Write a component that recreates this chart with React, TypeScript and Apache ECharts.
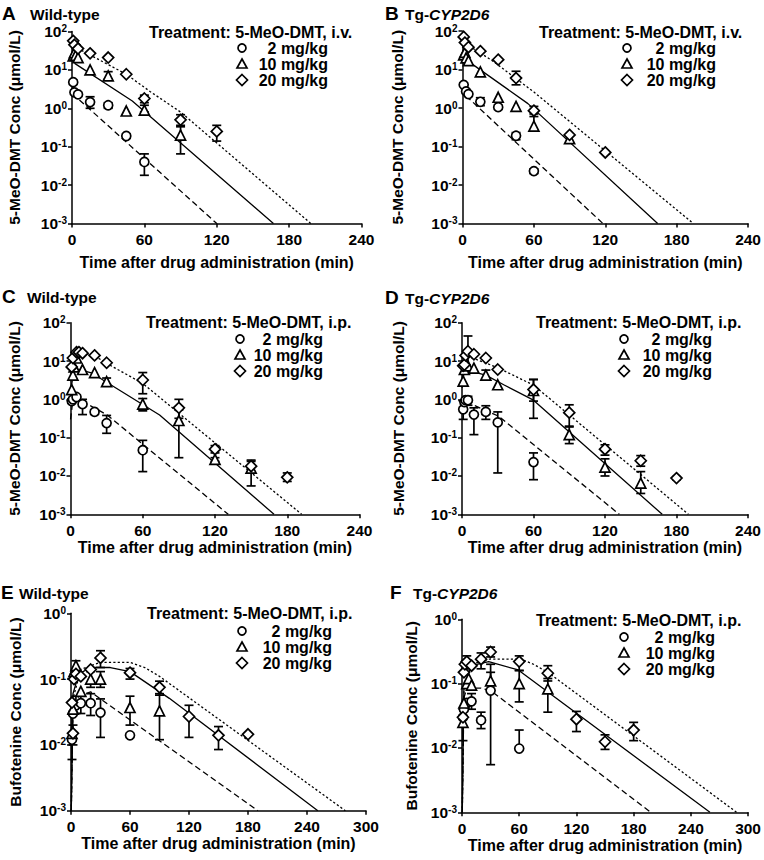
import React, { useEffect, useRef } from "react";
import * as echarts from "echarts";

// ---------- DATA ----------
// Each observation: [time (min), mean, lower error, upper error]
// Panel A: Wild-type, 5-MeO-DMT i.v.
const A_2 = [[1, 4.8], [2, 2.6], [5, 2.3], [15, 1.45, 1.0, 2.0], [30, 1.2, 1.0, 1.4], [45, 0.19], [60, 0.04, 0.018, 0.065]];
const A_10 = [[1, 23], [2, 28], [3, 24], [5, 21], [15, 10], [30, 7, 5.8, 9], [45, 0.85], [60, 0.9, 0.8, 1.2], [90, 0.2, 0.065, 0.33]];
const A_20 = [[1, 57], [2, 45], [5, 36], [15, 27], [30, 21], [45, 7.7], [60, 1.8, 1.4, 2.2], [90, 0.5, 0.36, 0.68], [120, 0.25, 0.14, 0.36]];
const A_fit2 = [[0, 4.5], [2.5, 2.1], [120, 0.001]];
const A_fit10 = [[0, 28], [2.5, 14.6], [50, 1.55], [167, 0.001]];
const A_fit20 = [[0, 55], [5, 36], [45, 7.7], [65, 2.7], [90, 0.8], [198, 0.001]];

// Panel B: Tg-CYP2D6, 5-MeO-DMT i.v.
const B_2 = [[1, 4.0], [3, 2.7], [5, 2.3], [15, 1.45, 1.15, 1.85], [30, 1.05], [45, 0.19, 0.15, 0.23], [60, 0.023, 0.02, 0.026]];
const B_10 = [[1, 24], [2, 28], [3, 20], [5, 17], [15, 8.7], [30, 1.9], [45, 1.1], [60, 0.34, 0.25, 0.6], [90, 0.16]];
const B_20 = [[1, 70], [2, 50], [5, 38], [15, 30], [30, 18], [45, 6, 4, 9], [60, 0.85, 0.7, 1.1], [90, 0.2], [120, 0.07]];
const B_fit2 = [[0, 3.5], [3.5, 2.0], [118, 0.001]];
const B_fit10 = [[0, 30], [4, 17], [55, 1.3], [164, 0.001]];
const B_fit20 = [[0, 80], [5, 42], [25, 17], [60, 2.6], [194, 0.001]];

// Panel C: Wild-type, 5-MeO-DMT i.p.
const C_2 = [[1, 0.9], [2, 1.0], [5, 1.15, 0.9, 1.3], [10, 0.75, 0.4, 1.0], [20, 0.47], [30, 0.24, 0.13, 0.38], [60, 0.047, 0.013, 0.085]];
const C_10 = [[1, 1.8], [2, 4.3], [3, 7], [5, 12], [10, 6], [20, 5], [30, 2.9, 2.5, 3.6], [60, 0.75, 0.5, 1.05], [90, 0.28, 0.03, 0.53], [120, 0.027, 0.024, 0.03], [150, 0.016, 0.0055, 0.026]];
const C_20 = [[1, 7], [2, 12], [5, 17], [7, 17], [10, 16], [20, 14], [30, 9], [60, 3.2, 1.4, 5], [90, 0.6, 0.32, 1.0], [120, 0.05, 0.04, 0.062], [150, 0.018, 0.013, 0.024], [180, 0.0092, 0.0072, 0.012]];
const C_fit2 = [[0, 0.3], [2, 0.95], [8, 0.95], [30, 0.4], [131, 0.001]];
const C_fit10 = [[0, 1.5], [3, 6.5], [18, 4.8], [30, 2.8], [74, 0.39], [169, 0.001]];
const C_fit20 = [[0, 3], [4, 16], [18, 15], [30, 8.7], [60, 2.6], [192, 0.001]];

// Panel D: Tg-CYP2D6, 5-MeO-DMT i.p.
const D_2 = [[1, 0.55, 0.3, 0.9], [2, 0.85], [3, 0.95], [5, 0.95, 0.7, 1.2], [10, 0.4, 0.12, 0.6], [20, 0.47, 0.3, 0.68], [30, 0.25, 0.012, 0.47], [60, 0.023, 0.008, 0.04]];
const D_10 = [[1, 3], [2, 6], [5, 7.5], [10, 6.5], [20, 4.3, 3.4, 5.8], [30, 2.4], [60, 1.7, 0.32, 3.3], [90, 0.12, 0.07, 0.19], [120, 0.017, 0.01, 0.028], [150, 0.0065, 0.0035, 0.013]];
const D_20 = [[1, 7.5], [2, 8], [3, 14], [5, 18, 5, 45], [10, 15], [20, 12], [30, 6], [60, 1.8, 0.9, 3.3], [90, 0.45, 0.2, 0.72], [120, 0.05, 0.035, 0.065], [150, 0.025, 0.018, 0.034], [180, 0.0088, 0.008, 0.0096]];
const D_fit2 = [[0, 0.5], [2, 0.8], [8, 0.75], [31, 0.36], [132, 0.001]];
const D_fit10 = [[0, 2], [2, 6], [20, 4.3], [35, 2.4], [60, 0.95], [168, 0.001]];
const D_fit20 = [[0, 3], [3, 13], [12, 11], [30, 6.7], [60, 2.35], [190, 0.001]];

// Panel E: Wild-type, bufotenine after 5-MeO-DMT i.p.
const E_2 = [[1, 0.012], [2, 0.03], [5, 0.04, 0.03, 0.055], [10, 0.043, 0.03, 0.055], [20, 0.043, 0.028, 0.06], [30, 0.031, 0.013, 0.05], [60, 0.014]];
const E_10 = [[1, 0.015, 0.006, 0.03], [2, 0.035], [3, 0.13], [5, 0.16, 0.13, 0.19], [10, 0.065], [20, 0.1, 0.075, 0.13], [30, 0.1, 0.075, 0.13], [60, 0.037, 0.02, 0.055], [90, 0.033, 0.012, 0.06]];
const E_20 = [[1, 0.044], [2, 0.015, 0.01, 0.02], [3, 0.1], [5, 0.12], [10, 0.11], [20, 0.14], [30, 0.21, 0.15, 0.27], [60, 0.125, 0.1, 0.145], [90, 0.075, 0.057, 0.093], [120, 0.027, 0.013, 0.04], [150, 0.014, 0.0085, 0.019], [180, 0.0145]];
const E_fit2 = [[0.3, 0.001], [2, 0.03], [8, 0.055], [20, 0.064], [30, 0.05], [190, 0.001]];
const E_fit10 = [[0.3, 0.001], [2, 0.06], [8, 0.12], [20, 0.15], [40, 0.15], [60, 0.13], [100, 0.051], [251, 0.001]];
const E_fit20 = [[0.3, 0.001], [2, 0.05], [10, 0.14], [30, 0.18], [60, 0.18], [75, 0.15], [90, 0.11], [279, 0.001]];

// Panel F: Tg-CYP2D6, bufotenine after 5-MeO-DMT i.p.
const F_2 = [[1, 0.03], [2, 0.04], [5, 0.05], [10, 0.053, 0.04, 0.07], [20, 0.027, 0.02, 0.036], [30, 0.078, 0.0055, 0.15], [60, 0.0098, 0.0098, 0.019]];
const F_10 = [[1, 0.025, 0.013, 0.04], [2, 0.05], [5, 0.1], [7, 0.12], [10, 0.095], [30, 0.11, 0.08, 0.2], [60, 0.1, 0.052, 0.16], [90, 0.083, 0.036, 0.12]];
const F_20 = [[1, 0.03], [2, 0.15], [3, 0.2], [5, 0.22, 0.17, 0.27], [10, 0.19], [20, 0.24, 0.17, 0.3], [30, 0.31, 0.26, 0.37], [60, 0.22, 0.16, 0.27], [90, 0.145, 0.11, 0.19], [120, 0.028, 0.018, 0.037], [150, 0.0125, 0.0095, 0.016], [180, 0.019, 0.013, 0.025]];
const F_fit2 = [[0.3, 0.001], [2, 0.06], [5, 0.085], [20, 0.085], [30, 0.078], [198, 0.001]];
const F_fit10 = [[0.3, 0.001], [2, 0.09], [10, 0.19], [28, 0.22], [59, 0.163], [260, 0.001]];
const F_fit20 = [[0.3, 0.001], [2, 0.08], [10, 0.2], [28, 0.24], [62, 0.24], [75, 0.2], [90, 0.15], [288, 0.001]];

const DOSES = ["2 mg/kg", "10 mg/kg", "20 mg/kg"];
const X_TITLE = "Time after drug administration (min)";
const Y_TITLE_PARENT = "5-MeO-DMT Conc (\u03bcmol/L)";
const Y_TITLE_METAB = "Bufotenine Conc (\u03bcmol/L)";

const PANELS = [
  { letter: "A", tg: false, route: "i.v.", yName: Y_TITLE_PARENT, yMin: 0.001, yMax: 100, xMax: 240, obs: [A_2, A_10, A_20], fits: [A_fit2, A_fit10, A_fit20] },
  { letter: "B", tg: true, route: "i.v.", yName: Y_TITLE_PARENT, yMin: 0.001, yMax: 100, xMax: 240, obs: [B_2, B_10, B_20], fits: [B_fit2, B_fit10, B_fit20] },
  { letter: "C", tg: false, route: "i.p.", yName: Y_TITLE_PARENT, yMin: 0.001, yMax: 100, xMax: 240, obs: [C_2, C_10, C_20], fits: [C_fit2, C_fit10, C_fit20] },
  { letter: "D", tg: true, route: "i.p.", yName: Y_TITLE_PARENT, yMin: 0.001, yMax: 100, xMax: 240, obs: [D_2, D_10, D_20], fits: [D_fit2, D_fit10, D_fit20] },
  { letter: "E", tg: false, route: "i.p.", yName: Y_TITLE_METAB, yMin: 0.001, yMax: 1, xMax: 300, obs: [E_2, E_10, E_20], fits: [E_fit2, E_fit10, E_fit20] },
  { letter: "F", tg: true, route: "i.p.", yName: Y_TITLE_METAB, yMin: 0.001, yMax: 1, xMax: 300, obs: [F_2, F_10, F_20], fits: [F_fit2, F_fit10, F_fit20] },
];

// ---------- LAYOUT (page pixels) ----------
const LAYOUT = [
  { grid: { left: 72, top: 31.5, width: 289.5, height: 192 }, gapX: 31, gapY: 50, letterX: 2, titleY: 13, genoX: 30, legX: 149, legY: 32, symX: 242, rows: [48, 64, 80], textRight: 328 },
  { grid: { left: 462.5, top: 31, width: 287.5, height: 192.5 }, gapX: 31, gapY: 57, letterX: 385, titleY: 13, genoX: 405, legX: 539, legY: 32, symX: 627, rows: [48, 64, 80], textRight: 716 },
  { grid: { left: 70.5, top: 322.7, width: 289, height: 191.6 }, gapX: 25, gapY: 48, letterX: 2, titleY: 296, genoX: 27, legX: 146, legY: 322.5, symX: 240, rows: [339, 355, 371], textRight: 323 },
  { grid: { left: 462, top: 322.7, width: 286, height: 191.6 }, gapX: 25, gapY: 56, letterX: 385, titleY: 297, genoX: 405, legX: 536, legY: 322.5, symX: 624, rows: [339, 355, 371], textRight: 712 },
  { grid: { left: 71, top: 613.3, width: 295, height: 197.4 }, gapX: 25, gapY: 48, letterX: 1, titleY: 592, genoX: 19, legX: 147, legY: 613, symX: 242, rows: [631, 647, 663], textRight: 332 },
  { grid: { left: 462, top: 619.3, width: 286.7, height: 193 }, gapX: 25, gapY: 43, letterX: 390, titleY: 592, genoX: 413, legX: 536, legY: 620, symX: 624, rows: [637, 653, 669], textRight: 715 },
];

const FONT = "'Liberation Sans', Arial, Helvetica, sans-serif";
const SYMBOLS = ["circle", "triangle", "diamond"];
const SYMBOL_SIZES = [9, 10, 11];
const LINE_TYPES: any[] = [[6, 3.5], "solid", [2.2, 2.2]];

function errorSeries(data: number[][], gi: number) {
  return {
    type: "custom",
    xAxisIndex: gi,
    yAxisIndex: gi,
    z: 3,
    silent: true,
    data: data.filter((d) => d.length >= 4).map((d) => [d[0], d[1], d[2], d[3]]),
    encode: { x: 0, y: [1, 2, 3] },
    renderItem: (_p: any, api: any) => {
      const x = api.value(0);
      const lo = api.coord([x, api.value(2)]);
      const hi = api.coord([x, api.value(3)]);
      const w = 4.5;
      const st = { stroke: "#000", lineWidth: 1.7, fill: "none" };
      return {
        type: "group",
        children: [
          { type: "line", shape: { x1: lo[0], y1: lo[1], x2: hi[0], y2: hi[1] }, style: st },
          { type: "line", shape: { x1: lo[0] - w, y1: lo[1], x2: lo[0] + w, y2: lo[1] }, style: st },
          { type: "line", shape: { x1: hi[0] - w, y1: hi[1], x2: hi[0] + w, y2: hi[1] }, style: st },
        ],
      };
    },
  };
}

function legendSymbol(kind: number, x: number, y: number) {
  const style = { fill: "#fff", stroke: "#000", lineWidth: 1.7 };
  if (kind === 0) return { type: "circle", shape: { cx: x, cy: y, r: 4 }, style };
  if (kind === 1)
    return { type: "polygon", shape: { points: [[x, y - 5], [x + 5, y + 4], [x - 5, y + 4]] }, style };
  return { type: "polygon", shape: { points: [[x, y - 5.5], [x + 5.5, y], [x, y + 5.5], [x - 5.5, y]] }, style };
}

function buildOption() {
  const grids: any[] = [];
  const xAxes: any[] = [];
  const yAxes: any[] = [];
  const series: any[] = [];
  const graphics: any[] = [];

  PANELS.forEach((p, i) => {
    const L = LAYOUT[i];
    grids.push({ ...L.grid, containLabel: false });
    xAxes.push({
      type: "value",
      gridIndex: i,
      min: 0,
      max: p.xMax,
      interval: 60,
      name: X_TITLE,
      nameLocation: "middle",
      nameGap: L.gapX,
      nameTextStyle: { fontSize: 16, fontWeight: "bold", fontFamily: FONT, color: "#000" },
      axisLine: { show: true, onZero: false, lineStyle: { color: "#000", width: 1.5 } },
      axisTick: { show: true, length: 4, lineStyle: { color: "#000", width: 1.5 } },
      axisLabel: { margin: 8, fontSize: 15.5, fontWeight: "bold", fontFamily: FONT, color: "#000" },
      splitLine: { show: false },
    });
    yAxes.push({
      type: "log",
      logBase: 10,
      gridIndex: i,
      min: p.yMin,
      max: p.yMax,
      name: p.yName,
      nameLocation: "middle",
      nameGap: L.gapY,
      nameTextStyle: { fontSize: 15.5, fontWeight: "bold", fontFamily: FONT, color: "#000" },
      axisLine: { show: true, lineStyle: { color: "#000", width: 1.5 } },
      axisTick: { show: true, length: 4, lineStyle: { color: "#000", width: 1.5 } },
      minorTick: { show: false },
      splitLine: { show: false },
      axisLabel: {
        margin: 5,
        color: "#000",
        formatter: (v: number) => {
          const e = Math.round(Math.log10(v));
          return `{b|10}{s|${e}}`;
        },
        rich: {
          b: { fontSize: 15.5, fontWeight: "bold", fontFamily: FONT, color: "#000" },
          s: { fontSize: 10, fontWeight: "bold", fontFamily: FONT, color: "#000", verticalAlign: "top" },
        },
      },
    });

    p.fits.forEach((f, k) => {
      series.push({
        type: "line",
        name: `${p.letter} fit ${DOSES[k]}`,
        xAxisIndex: i,
        yAxisIndex: i,
        data: f,
        showSymbol: false,
        symbol: "none",
        silent: true,
        clip: true,
        z: 2,
        lineStyle: { color: "#000", width: 1.3, type: LINE_TYPES[k] },
      });
    });
    p.obs.forEach((o, k) => {
      series.push(errorSeries(o as number[][], i));
      series.push({
        type: "scatter",
        name: `${p.letter} ${DOSES[k]}`,
        xAxisIndex: i,
        yAxisIndex: i,
        data: o.map((d) => [d[0], d[1]]),
        symbol: SYMBOLS[k],
        symbolSize: SYMBOL_SIZES[k],
        z: 4,
        itemStyle: { color: "#fff", borderColor: "#000", borderWidth: 1.7, opacity: 1 },
      });
    });

    // panel letter + genotype
    graphics.push({
      type: "text",
      x: L.letterX,
      y: L.titleY,
      style: { text: p.letter, fontSize: 19, fontWeight: "bold", fontFamily: FONT, fill: "#000", verticalAlign: "middle" },
    });
    graphics.push({
      type: "text",
      x: L.genoX,
      y: L.titleY + 1,
      style: p.tg
        ? {
            text: "{n|Tg-}{i|CYP2D6}",
            verticalAlign: "middle",
            rich: {
              n: { fontSize: 15.5, fontWeight: "bold", fontFamily: FONT, fill: "#000" },
              i: { fontSize: 15.5, fontWeight: "bold", fontStyle: "italic", fontFamily: FONT, fill: "#000" },
            },
          }
        : { text: "Wild-type", fontSize: 15.5, fontWeight: "bold", fontFamily: FONT, fill: "#000", verticalAlign: "middle" },
    });
    // legend
    graphics.push({
      type: "text",
      x: L.legX,
      y: L.legY,
      style: { text: `Treatment: 5-MeO-DMT, ${p.route}`, fontSize: 16, lineHeight: 14, fontWeight: "bold", fontFamily: FONT, fill: "#000", verticalAlign: "middle" },
    });
    DOSES.forEach((d, k) => {
      graphics.push(legendSymbol(k, L.symX, L.rows[k]));
      graphics.push({
        type: "text",
        x: L.textRight,
        y: L.rows[k],
        style: { text: d, fontSize: 16, lineHeight: 14, fontWeight: "bold", fontFamily: FONT, fill: "#000", align: "right", verticalAlign: "middle" },
      });
    });
  });

  return {
    animation: false,
    backgroundColor: "#fff",
    textStyle: { fontFamily: FONT },
    grid: grids,
    xAxis: xAxes,
    yAxis: yAxes,
    series,
    graphic: graphics,
  };
}

export default function App() {
  const ref = useRef<HTMLDivElement>(null);
  useEffect(() => {
    document.body.style.margin = "0";
    if (!ref.current) return;
    const chart = echarts.init(ref.current, null, { renderer: "svg" });
    chart.setOption(buildOption() as any);
    return () => chart.dispose();
  }, []);
  return <div ref={ref} style={{ width: 764, height: 860 }} />;
}
